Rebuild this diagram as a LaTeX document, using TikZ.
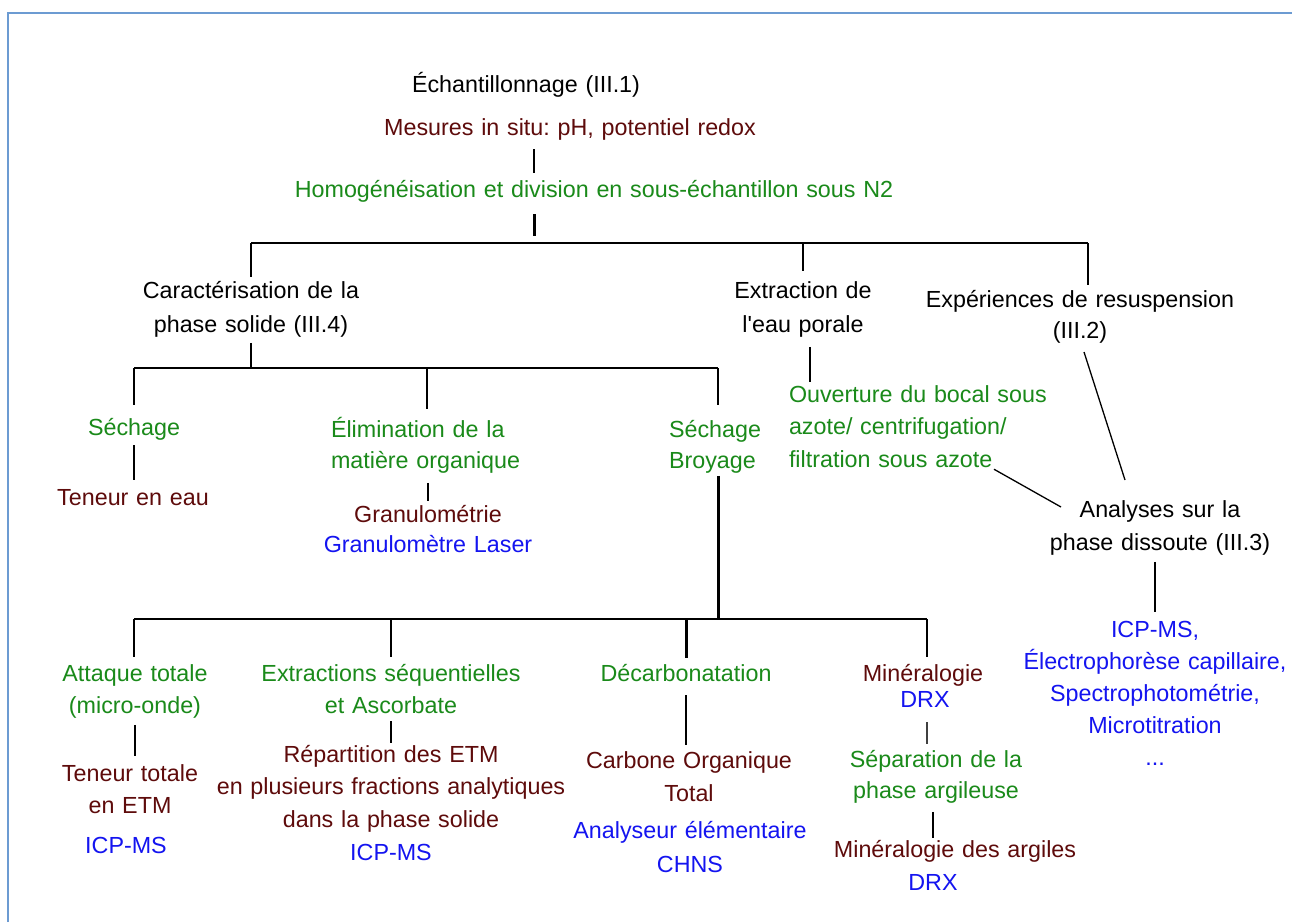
\documentclass[tikz,border=0pt]{standalone}
\usepackage{fontspec}
\setmainfont{Liberation Sans}
\frenchspacing
\newcommand\fsz[1]{\fontsize{23.3pt}{#1pt}\selectfont}
\definecolor{dred}{HTML}{5E0B0B}
\definecolor{grn}{HTML}{1A8A1A}
\definecolor{blu}{HTML}{1414F0}
\definecolor{frm}{HTML}{6C9BD2}
\begin{document}
\begin{tikzpicture}[x=1pt,y=-1pt,
  lab/.style={inner sep=0pt, outer sep=0pt, text width=440pt, align=center, anchor=base, font=\fsz{33}},
  labl/.style={inner sep=0pt, outer sep=0pt, text width=300pt, align=left, anchor=base west, font=\fsz{33}},
  ln/.style={line width=1.3pt},
  bar/.style={line width=1.8pt},
  thk/.style={line width=3pt},
  mid/.style={line width=2.4pt, black!75}]
\useasboundingbox (0,0) rectangle (1292,922);
\fill[white] (0,0) rectangle (1292,922);
\draw[line width=2pt, frm] (8,922) -- (8,13) -- (1292,13);

% nodes
\node[lab] (ech) at (526,92) {Échantillonnage (III.1)};
\node[lab,text=dred] (mes) at (570,135) {Mesures in situ: pH, potentiel redox};
\node[lab,text=grn,text width=700pt] (homog) at (594,197) {Homogénéisation et division en sous-échantillon sous N2};
\node[lab,font=\fsz{34}] (cara) at (251,298) {Caractérisation de la\\phase solide (III.4)};
\node[lab,font=\fsz{34}] (extr) at (803,298) {Extraction de\\l\textquotesingle eau porale};
\node[lab,font=\fsz{31}] (exp) at (1080,307) {Expériences de resuspension\\(III.2)};
\node[lab,text=grn] (sech) at (134,435) {Séchage};
\node[lab,text=dred] (teneau) at (133,505) {Teneur en eau};
\node[labl,text=grn,font=\fsz{31}] (elim) at (331,437) {Élimination de la\\matière organique};
\node[lab,text=dred] (granu) at (428,522) {Granulométrie};
\node[lab,text=blu] (laser) at (428,552) {Granulomètre Laser};
\node[labl,text=grn,font=\fsz{31}] (sb) at (669,437) {Séchage\\Broyage};
\node[labl,text=grn,font=\fsz{32.5}] (ouv) at (789,402) {Ouverture du bocal sous\\azote/ centrifugation/\\filtration sous azote};
\node[lab,font=\fsz{33}] (ana) at (1160,517) {Analyses sur la\\phase dissoute (III.3)};
\node[lab,text=blu,font=\fsz{32}] (icp) at (1155,637) {ICP-MS,\\Électrophorèse capillaire,\\Spectrophotométrie,\\Microtitration\\...};
\node[lab,text=grn,font=\fsz{32}] (att) at (135,681) {Attaque totale\\(micro-onde)};
\node[lab,text=dred,font=\fsz{32}] (tt) at (130,781) {Teneur totale\\en ETM};
\node[lab,text=blu] (icp1) at (126,853) {ICP-MS};
\node[lab,text=grn,font=\fsz{32}] (exs) at (391,681) {Extractions séquentielles\\et Ascorbate};
\node[lab,text=dred,font=\fsz{32.5}] (rep) at (391,762) {Répartition des ETM\\en plusieurs fractions analytiques\\dans la phase solide};
\node[lab,text=blu] (icp2) at (391,860) {ICP-MS};
\node[lab,text=grn] (dec) at (686,681) {Décarbonatation};
\node[lab,text=dred,font=\fsz{33}] (cot) at (689,768) {Carbone Organique\\Total};
\node[lab,text=blu,font=\fsz{34}] (ana2) at (690,838) {Analyseur élémentaire\\CHNS};
\node[lab,text=dred] (min) at (923,681) {Minéralogie};
\node[lab,text=blu] (drx1) at (925,707) {DRX};
\node[lab,text=grn,font=\fsz{31}] (sep) at (936,767) {Séparation de la\\phase argileuse};
\node[lab,text=dred] (minarg) at (955,857) {Minéralogie des argiles};
\node[lab,text=blu] (drx2) at (933,890) {DRX};

% junctions
\coordinate (t0) at (534,243);
\coordinate (bL) at (251,243);
\coordinate (bR) at (1088,243);
\coordinate (b2L) at (134,368);
\coordinate (b2M) at (427,368);
\coordinate (b2R) at (718,368);
\coordinate (b3L) at (134,619);
\coordinate (b3R) at (927,619);
\coordinate (b3J) at (718,619);

% connectors
\draw[ln] ([yshift=-14pt]mes.base -| t0) -- ([yshift=24pt]homog.base -| t0);
\draw[thk] ([yshift=-17pt]homog.base -| t0) -- ([yshift=7pt]t0);
\draw[bar] (bL) -- (bR);
\draw[bar] (bL) -- ([yshift=21pt]cara.base -| bL);
\draw[bar] (extr.base |- bL) -- ([yshift=27pt]extr.base);
\draw[bar] (bR) -- ([yshift=22pt]exp.base -| bR);
\draw[ln] ([yshift=-6pt]cara.south) -- (cara.south |- b2L);
\draw[bar] (b2L) -- (b2R);
\draw[bar] (b2L) -- ([yshift=30pt]sech.base -| b2L);
\draw[bar] (b2M) -- ([yshift=28pt]elim.base -| b2M);
\draw[bar] (b2R) -- ([yshift=32pt]sb.base -| b2R);
\draw[ln] ([yshift=-10pt]sech.base) -- ([yshift=25pt]teneau.base -| sech.base);
\draw[ln] ([yshift=-10pt]elim.south -| granu.base) -- ([yshift=21pt]granu.base);
\draw[thk] ([yshift=-3pt]sb.south -| b3J) -- (b3J);
\draw[bar] (b3L) -- (b3R);
\draw[bar] (b3L) -- ([yshift=24pt]att.base -| b3L);
\draw[bar] (exs.base |- b3L) -- ([yshift=24pt]exs.base);
\draw[thk] (dec.base |- b3L) -- ([yshift=23pt]dec.base);
\draw[bar] (b3R) -- ([yshift=24pt]min.base -| b3R);
\draw[ln] ([yshift=-7pt]att.south) -- ([yshift=25pt]tt.base -| att.south);
\draw[ln] ([yshift=-8pt]exs.south) -- ([yshift=19pt]rep.base -| exs.south);
\draw[ln] ([yshift=-14pt]dec.base) -- ([yshift=23pt]cot.base -| dec.base);
\draw[mid] ([yshift=-15pt]drx1.base -| b3R) -- ([yshift=23pt]sep.base -| b3R);
\draw[ln] ([yshift=-9pt]sep.south -| drx2.base) -- ([yshift=19pt]minarg.base -| drx2.base);
\draw[ln] ([xshift=7pt,yshift=-10pt]extr.south) -- ([xshift=21pt,yshift=20pt]ouv.base west);
\draw[ln] ([xshift=205pt,yshift=-2pt]ouv.south west) -- ([xshift=-99pt,yshift=10pt]ana.base);
\draw[ln] ([xshift=4pt,yshift=-45pt]exp.base) -- ([xshift=-35pt,yshift=37pt]ana.base);
\draw[ln] ([yshift=-7pt]ana.south -| icp.base) -- ([yshift=25pt]icp.base);
\end{tikzpicture}
\end{document}
